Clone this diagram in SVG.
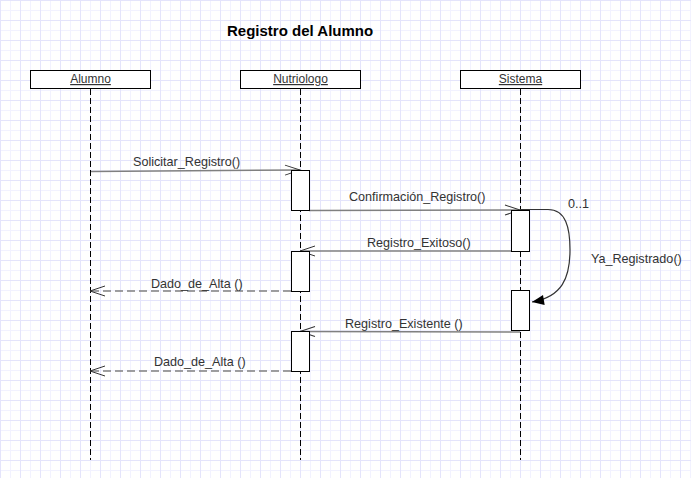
<svg xmlns="http://www.w3.org/2000/svg" width="691" height="478" viewBox="0 0 691 478">
<style>
.lbl{font-family:"Liberation Sans",Arial,sans-serif;font-size:12.6px;fill:#333}
.hdr{font-family:"Liberation Sans",Arial,sans-serif;font-size:12px;fill:#333;text-decoration:underline}
.box{fill:#fff;stroke:#000;stroke-width:1}
.life{stroke:#000;stroke-width:1;stroke-dasharray:6,3;fill:none}
.msg{stroke:#808080;stroke-width:1.5;fill:none}
.ret{stroke:#808080;stroke-width:1.5;fill:none;stroke-dasharray:8,4}
.act{fill:#fff;stroke:#000;stroke-width:1}
</style>
<defs>
<pattern id="grid" width="20" height="20" patternUnits="userSpaceOnUse">
<rect width="20" height="20" fill="#fff"/>
<line x1="10.5" y1="0" x2="10.5" y2="20" stroke="#f2f2ff" stroke-width="1"/>
<line x1="0" y1="10.5" x2="20" y2="10.5" stroke="#f2f2ff" stroke-width="1"/>
<line x1="0.5" y1="0" x2="0.5" y2="20" stroke="#e4e4fb" stroke-width="1"/>
<line x1="0" y1="0.5" x2="20" y2="0.5" stroke="#e4e4fb" stroke-width="1"/>
</pattern>
<marker id="open" markerUnits="userSpaceOnUse" markerWidth="20" markerHeight="14" refX="16" refY="6" orient="auto" overflow="visible">
<path d="M1,1 L16,6 L1,11" fill="none" stroke="#333" stroke-width="1"/>
</marker>
<marker id="filled" markerUnits="userSpaceOnUse" markerWidth="14" markerHeight="12" refX="12" refY="5" orient="auto" overflow="visible">
<path d="M0,0 L12,5 L0,10 Z" fill="#000"/>
</marker>
</defs>
<rect width="691" height="478" fill="url(#grid)"/>
<text x="227" y="36" font-family="'Liberation Sans',Arial,sans-serif" font-size="15" font-weight="bold" fill="#000">Registro del Alumno</text>

<g id="alumno">
<rect class="box" x="30.5" y="70.5" width="120" height="18"/>
<text class="hdr" x="90.5" y="83" text-anchor="middle">Alumno</text>
<line class="life" x1="90.5" y1="89" x2="90.5" y2="460"/>
</g>
<g id="nutriologo">
<rect class="box" x="240.5" y="70.5" width="120" height="18"/>
<text class="hdr" x="300.5" y="83" text-anchor="middle">Nutriologo</text>
<line class="life" x1="300.5" y1="89" x2="300.5" y2="460"/>
</g>
<g id="sistema">
<rect class="box" x="460.5" y="70.5" width="120" height="18"/>
<text class="hdr" x="520.5" y="83" text-anchor="middle">Sistema</text>
<line class="life" x1="520.5" y1="89" x2="520.5" y2="460"/>
</g>

<g id="connectors">
<line class="msg" x1="91" y1="171.5" x2="300" y2="170" marker-end="url(#open)"/>
<text class="lbl" x="133" y="166">Solicitar_Registro()</text>
<line class="msg" x1="309" y1="210.5" x2="520" y2="210" marker-end="url(#open)"/>
<text class="lbl" x="349" y="201">Confirmación_Registro()</text>
<line class="msg" x1="511" y1="251" x2="300" y2="251" marker-end="url(#open)"/>
<text class="lbl" x="367" y="247">Registro_Exitoso()</text>
<line class="ret" x1="291" y1="291" x2="90" y2="291" marker-end="url(#open)"/>
<text class="lbl" x="151" y="288">Dado_de_Alta ()</text>
<path d="M520,209.5 L548,209.5 C566,209.5 570,228 570,250 C570,278 562,297 532,302" fill="none" stroke="#333" stroke-width="1.2" marker-end="url(#filled)"/>
<text class="lbl" x="568" y="208">0..1</text>
<text class="lbl" x="591" y="263">Ya_Registrado()</text>
<line class="msg" x1="520" y1="332" x2="300" y2="331.5" marker-end="url(#open)"/>
<text class="lbl" x="345" y="328">Registro_Existente ()</text>
<line class="ret" x1="291" y1="371" x2="90" y2="371" marker-end="url(#open)"/>
<text class="lbl" x="154" y="366">Dado_de_Alta ()</text>
</g>

<g id="activations">
<rect class="act" x="291.5" y="170.5" width="18" height="40"/>
<rect class="act" x="511.5" y="210.5" width="18" height="41"/>
<rect class="act" x="291.5" y="251.5" width="18" height="40"/>
<rect class="act" x="511.5" y="290.5" width="18" height="40"/>
<rect class="act" x="291.5" y="331.5" width="18" height="40"/>
</g>
</svg>
